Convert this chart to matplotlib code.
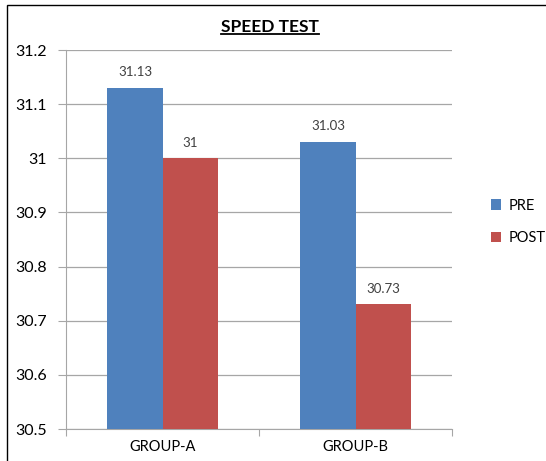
import matplotlib
matplotlib.use("Agg")
import matplotlib.pyplot as plt
import numpy as np
from matplotlib.lines import Line2D
from matplotlib.patches import Rectangle

categories = ["GROUP-A", "GROUP-B"]
pre = [31.13, 31.03]
post = [31.00, 30.73]
pre_labels = ["31.13", "31.03"]
post_labels = ["31", "30.73"]
yticks = [30.5, 30.6, 30.7, 30.8, 30.9, 31.0, 31.1, 31.2]
ytick_labels = ["30.5", "30.6", "30.7", "30.8", "30.9", "31", "31.1", "31.2"]

plt.rcParams['font.family'] = ['Lato', 'DejaVu Sans']

fig = plt.figure(figsize=(5.46, 4.61), dpi=100)
ax = fig.add_axes([66/546, 1-429/461, (452-66)/546, (429-50)/461])

# outer chart frame
fig.patches.append(Rectangle((7/546, -0.1), 1.2, 1 - 5/461 + 0.1, transform=fig.transFigure,
                             fill=False, edgecolor='black', linewidth=1.0))

x = np.arange(len(categories))
w = 0.285
c_pre = '#4f81bd'
c_post = '#c0504d'
b1 = ax.bar(x - w/2, np.array(pre) - 30.5, w, bottom=30.5, color=c_pre, label='PRE', zorder=3)
b2 = ax.bar(x + w/2, np.array(post) - 30.5, w, bottom=30.5, color=c_post, label='POST', zorder=3)

for xi, v, lab in zip(x - w/2, pre, pre_labels):
    ax.annotate(lab, (xi, v), xytext=(0, 7), textcoords='offset points', ha='center', va='bottom', fontsize=9.5, color='#404040')
for xi, v, lab in zip(x + w/2, post, post_labels):
    ax.annotate(lab, (xi, v), xytext=(0, 7), textcoords='offset points', ha='center', va='bottom', fontsize=9.5, color='#404040')

ax.set_ylim(30.5, 31.2)
ax.set_xlim(-0.5, 1.5)
ax.set_yticks(yticks)
ax.set_yticklabels(ytick_labels, fontsize=11.5)
ax.yaxis.grid(True, color='#a6a6a6', linewidth=0.9, zorder=0)
ax.set_axisbelow(True)

ax.set_xticks([-0.5, 0.5, 1.5])
ax.set_xticklabels([])
ax.set_xticks(x, minor=True)
ax.set_xticklabels(categories, minor=True, fontsize=10.5)
ax.tick_params(axis='x', which='minor', length=0, pad=8)
ax.tick_params(axis='x', which='major', length=5, color='#a6a6a6')
ax.tick_params(axis='y', length=6, color='#a6a6a6', pad=8)

for s in ['top', 'right']:
    ax.spines[s].set_visible(False)
for s in ['left', 'bottom']:
    ax.spines[s].set_color('#a6a6a6')

leg = fig.legend(handles=[b1, b2], labels=['PRE', 'POST'], loc='center left',
                 bbox_to_anchor=(478/546, 1-222/461), frameon=False, fontsize=10.5,
                 handlelength=0.7, handleheight=0.7, labelspacing=1.3, handletextpad=0.5)

t = fig.text(0.495, 1-27/461, "SPEED TEST", ha='center', va='center', fontsize=12.5, fontweight='bold')
fig.canvas.draw()
bb = t.get_window_extent().transformed(fig.transFigure.inverted())
fig.add_artist(Line2D([bb.x0, bb.x1], [bb.y0 + 0.002, bb.y0 + 0.002], transform=fig.transFigure,
                      color='black', linewidth=1.3))

fig.savefig("out.png", dpi=100)
